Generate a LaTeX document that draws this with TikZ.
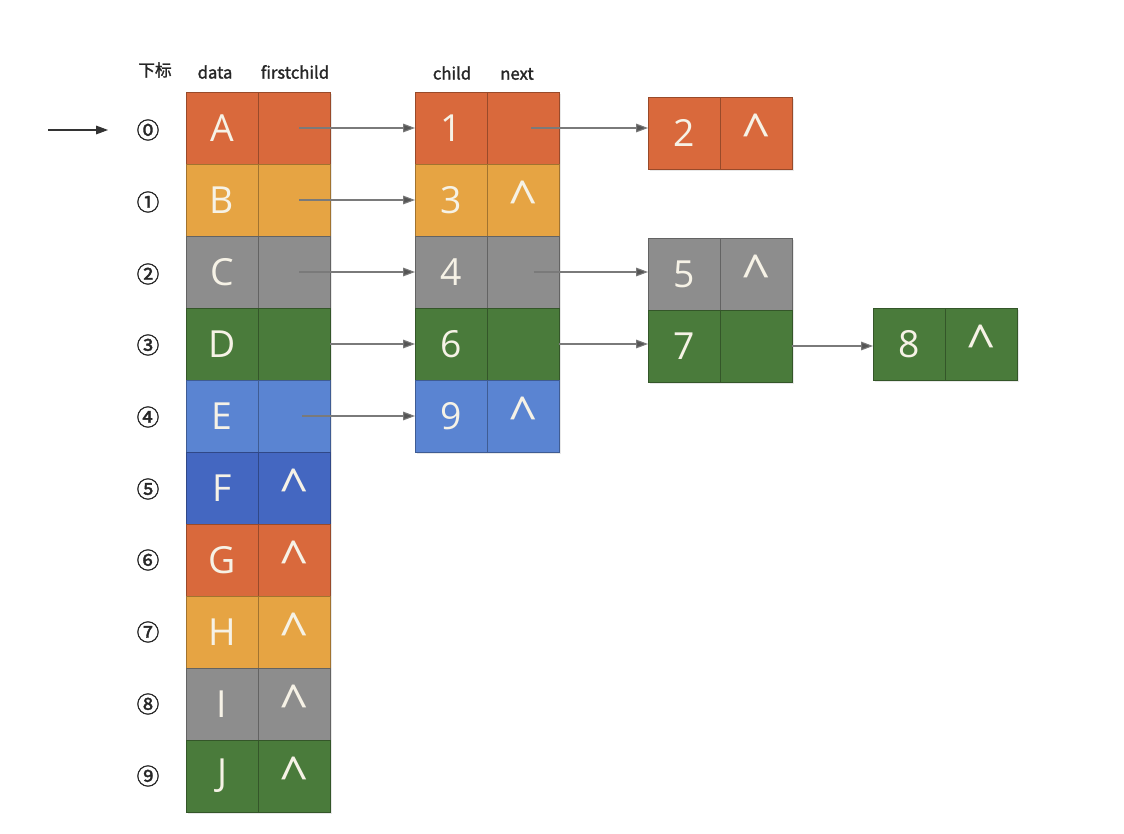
\documentclass[tikz,border=0pt]{standalone}
\usepackage{fontspec}
\setmainfont{Open Sans}
\newfontfamily\cjkfont{Noto Sans CJK SC}[FakeBold=1.5]
\newfontfamily\symfont{Noto Sans CJK SC}[FakeBold=1.5]
\usetikzlibrary{arrows.meta,shadows}
\definecolor{cRed}{HTML}{D9693C}
\definecolor{cOrg}{HTML}{E6A443}
\definecolor{cGray}{HTML}{8D8D8D}
\definecolor{cGreen}{HTML}{4A7B3B}
\definecolor{cBlue}{HTML}{5A84D2}
\definecolor{cBlueD}{HTML}{4467C1}
\definecolor{cTxt}{HTML}{F6F2E6}
\definecolor{cLine}{HTML}{7A7A7A}
\definecolor{cTip}{HTML}{555555}
\tikzset{
  cell/.style={anchor=north west, minimum width=54pt, minimum height=54pt,
    inner sep=0pt, outer sep=0pt, text=cTxt, font=\fontsize{28}{30}\selectfont,
    line width=0.6pt, drop shadow={opacity=0.18, shadow xshift=1.2pt, shadow yshift=-1.2pt}},
  red/.style={cell, fill=cRed, draw=cRed!70!black},
  org/.style={cell, fill=cOrg, draw=cOrg!70!black},
  gry/.style={cell, fill=cGray, draw=cGray!70!black},
  grn/.style={cell, fill=cGreen, draw=cGreen!70!black},
  blu/.style={cell, fill=cBlue, draw=cBlue!70!black},
  bld/.style={cell, fill=cBlueD, draw=cBlueD!70!black},
  hdr/.style={font=\cjkfont\fontsize{12.5}{14}\selectfont, text=black!85, inner sep=0pt},
  idx/.style={font=\symfont\fontsize{17}{18}\selectfont, text=black!85, inner sep=0pt},
  conn/.style={draw=cLine, line width=0.8pt, -{Triangle[length=9pt,width=6.5pt,fill=cTip]}},
}
\newcommand{\nil}{\raisebox{1pt}{\fontsize{38}{38}\selectfont\textasciicircum}}
\begin{document}
\begin{tikzpicture}[x=0.75pt,y=-0.75pt]
\useasboundingbox[fill=white] (0,0) rectangle (1124,834);

% headers
\node[hdr] (hIdx) at (155,70) {下标};
\node[hdr] (hData) at (215,72) {data};
\node[hdr] (hFc) at (295,72) {firstchild};
\node[hdr] (hChild) at (452,73) {child};
\node[hdr] (hNext) at (517,74) {next};

% index labels
\node[idx] (i0) at (148,130) {⓪};
\node[idx] (i1) at (148,202) {①};
\node[idx] (i2) at (148,274) {②};
\node[idx] (i3) at (148,345) {③};
\node[idx] (i4) at (148,417) {④};
\node[idx] (i5) at (148,489) {⑤};
\node[idx] (i6) at (148,560) {⑥};
\node[idx] (i7) at (148,632) {⑦};
\node[idx] (i8) at (148,704) {⑧};
\node[idx] (i9) at (148,776) {⑨};

% entry arrow
\coordinate (eS) at (48,130);
\coordinate (eE) at (108,130);
\draw[draw=black!80, line width=0.8pt, -{Triangle[length=9pt,width=6.5pt,fill=black!80]}] (eS) -- (eE);

% left column
\node[red] (d0) at (186,92) {A};  \node[red] (f0) at (258,92) {};
\node[org] (d1) at (186,164) {B}; \node[org] (f1) at (258,164) {};
\node[gry] (d2) at (186,236) {C}; \node[gry] (f2) at (258,236) {};
\node[grn] (d3) at (186,308) {D}; \node[grn] (f3) at (258,308) {};
\node[blu] (d4) at (186,380) {E}; \node[blu] (f4) at (258,380) {};
\node[bld] (d5) at (186,452) {F}; \node[bld] (f5) at (258,452) {\nil};
\node[red] (d6) at (186,524) {G}; \node[red] (f6) at (258,524) {\nil};
\node[org] (d7) at (186,596) {H}; \node[org] (f7) at (258,596) {\nil};
\node[gry] (d8) at (186,668) {I}; \node[gry] (f8) at (258,668) {\nil};
\node[grn] (d9) at (186,740) {J}; \node[grn] (f9) at (258,740) {\nil};

% middle column
\node[red] (c1) at (415,92) {1};  \node[red] (n1) at (487,92) {};
\node[org] (c3) at (415,164) {3}; \node[org] (n3) at (487,164) {\nil};
\node[gry] (c4) at (415,236) {4}; \node[gry] (n4) at (487,236) {};
\node[grn] (c6) at (415,308) {6}; \node[grn] (n6) at (487,308) {};
\node[blu] (c9) at (415,380) {9}; \node[blu] (n9) at (487,380) {\nil};

% right boxes
\node[red] (c2) at (648,97) {2};  \node[red] (n2) at (720,97) {\nil};
\node[gry] (c5) at (648,238) {5}; \node[gry] (n5) at (720,238) {\nil};
\node[grn] (c7) at (648,310) {7}; \node[grn] (n7) at (720,310) {};
\node[grn] (c8) at (873,308) {8}; \node[grn] (n8) at (945,308) {\nil};

% connectors
\draw[conn] ([xshift=4pt]f0.center) -- (f0.center -| c1.west);
\draw[conn] ([xshift=4pt]f1.center) -- (f1.center -| c3.west);
\draw[conn] ([xshift=4pt]f2.center) -- (f2.center -| c4.west);
\draw[conn] (f3.east) -- (f3.center -| c6.west);
\draw[conn] ([xshift=6pt]f4.center) -- (f4.center -| c9.west);
\draw[conn] ([xshift=6pt]n1.center) -- (n1.center -| c2.west);
\draw[conn] ([xshift=8pt]n4.center) -- (n4.center -| c5.west);
\draw[conn] (n6.east) -- (n6.east -| c7.west);
\draw[conn] (n7.east) -- (n7.east -| c8.west);
\end{tikzpicture}
\end{document}
